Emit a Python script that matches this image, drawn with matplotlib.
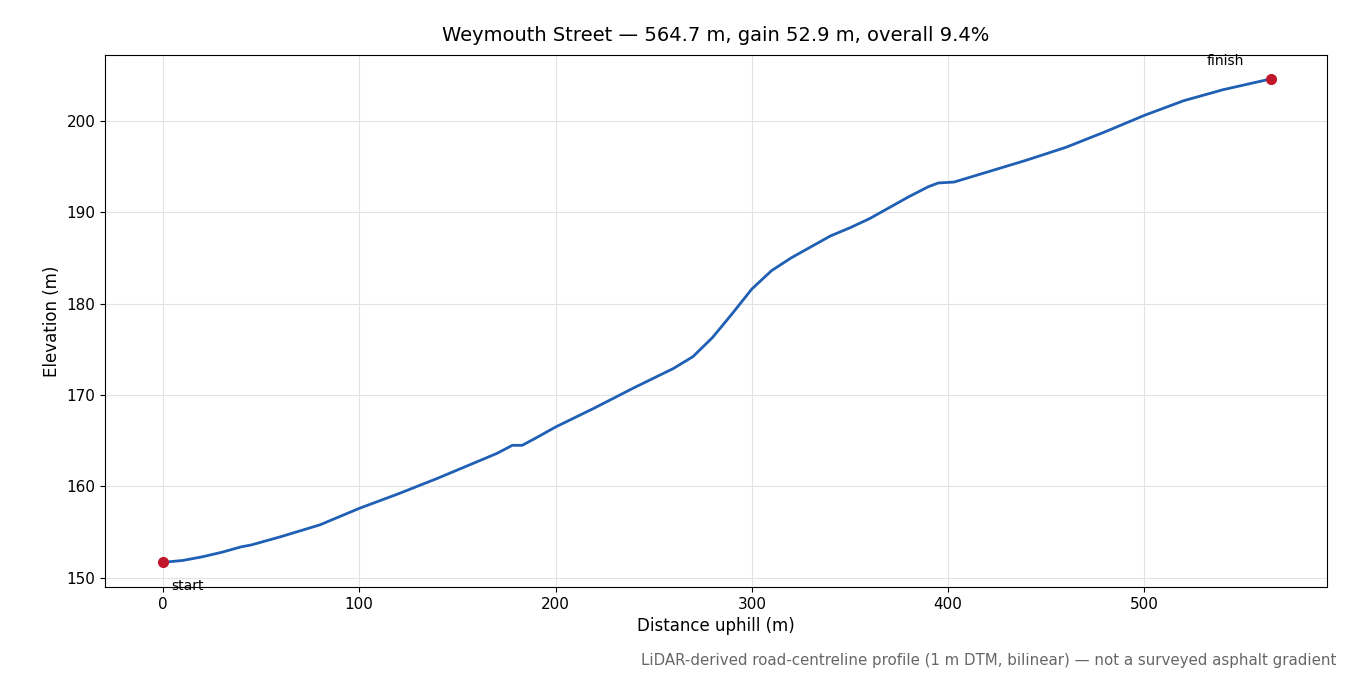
import matplotlib
matplotlib.use("Agg")
import matplotlib.pyplot as plt
import numpy as np

dist = [0, 10, 20, 30, 40, 45, 60, 80, 100, 120, 140, 160, 170, 178, 183, 190, 200, 220, 240, 260,
        270, 280, 290, 300, 305, 310, 320, 340, 350, 360, 380, 390, 395, 403, 420, 440, 460, 480,
        500, 520, 540, 564.7]
elev = [151.7, 151.9, 152.3, 152.8, 153.4, 153.6, 154.5, 155.8, 157.6, 159.2, 160.9, 162.7, 163.6,
        164.5, 164.5, 165.3, 166.5, 168.6, 170.8, 172.9, 174.2, 176.3, 178.9, 181.6, 182.6, 183.6,
        185.0, 187.4, 188.3, 189.3, 191.7, 192.8, 193.2, 193.3, 194.4, 195.7, 197.1, 198.8, 200.6,
        202.2, 203.4, 204.6]

fig = plt.figure(figsize=(13.5, 6.75), dpi=100)
ax = fig.add_axes([105/1350, 1-587/675, (1327-105)/1350, (587-55)/675])
ax.plot(dist, elev, color="#1f5fb4", lw=2, solid_joinstyle="round")
ax.plot([dist[0], dist[-1]], [elev[0], elev[-1]], "o", color="#c0182a", ms=7, zorder=3)
ax.annotate("start", (dist[0], elev[0]), xytext=(6, -20), textcoords="offset points", fontsize=10)
ax.annotate("finish", (dist[-1], elev[-1]), xytext=(-47, 10), textcoords="offset points", fontsize=10)
ax.set_xlim(-29.5, 593)
ax.set_ylim(149.0, 207.2)
ax.grid(True, color="#e3e3e3", lw=0.8)
ax.tick_params(labelsize=11)
ax.set_xlabel("Distance uphill (m)", fontsize=12, labelpad=4)
ax.set_ylabel("Elevation (m)", fontsize=12)
ax.set_title("Weymouth Street — 564.7 m, gain 52.9 m, overall 9.4%", fontsize=14, pad=10)
fig.text(1336/1350, 1-660/675, "LiDAR-derived road-centreline profile (1 m DTM, bilinear) — not a surveyed asphalt gradient",
         ha="right", va="center", fontsize=10.8, color="#666666")
fig.savefig("out.png", dpi=100)
